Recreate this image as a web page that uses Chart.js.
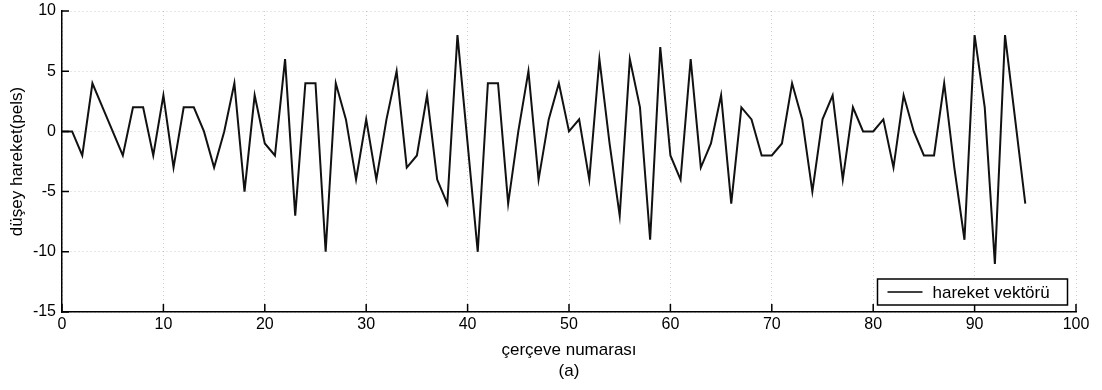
<!DOCTYPE html>
<html>
<head>
<meta charset="utf-8">
<script src="https://cdn.jsdelivr.net/npm/chart.js@4"></script>
<style>
  html, body { margin: 0; padding: 0; background: #fff; }
  #wrap { width: 1102px; height: 390px; }
</style>
</head>
<body>
<div id="wrap"><canvas id="chart" width="1102" height="390"></canvas></div>
<script>
// frame index (çerçeve numarası) and vertical motion (pels)
const frames = [
  0, 1, 2, 3, 4, 5, 6, 7, 8, 9, 10, 11, 12, 13, 14, 15, 16, 17, 18, 19,
  20, 21, 22, 23, 24, 25, 26, 27, 28, 29, 30, 31, 32, 33, 34, 35, 36, 37, 38, 39,
  40, 41, 42, 43, 44, 45, 46, 47, 48, 49, 50, 51, 52, 53, 54, 55, 56, 57, 58, 59,
  60, 61, 62, 63, 64, 65, 66, 67, 68, 69, 70, 71, 72, 73, 74, 75, 76, 77, 78, 79,
  80, 81, 82, 83, 84, 85, 86, 87, 88, 89, 90, 91, 92, 93, 94, 95
];
const motion = [
  0, 0, -2, 4, 2, 0, -2, 2, 2, -2, 3, -3, 2, 2, 0, -3, 0, 4, -5, 3,
  -1, -2, 6, -7, 4, 4, -10, 4, 1, -4, 1, -4, 1, 5, -3, -2, 3, -4, -6, 8,
  -1, -10, 4, 4, -6, 0, 5, -4, 1, 4, 0, 1, -4, 6, -1, -7, 6, 2, -9, 7,
  -2, -4, 6, -3, -1, 3, -6, 2, 1, -2, -2, -1, 4, 1, -5, 1, 3, -4, 2, 0,
  0, 1, -3, 3, 0, -2, -2, 4, -3, -9, 8, 2, -11, 8, 1, -6
];
const xTicks = [0, 10, 20, 30, 40, 50, 60, 70, 80, 90, 100];
const yTicks = [-15, -10, -5, 0, 5, 10];

const seriesName = 'hareket vektörü';
const xTitle = ['çerçeve numarası', '(a)'];
const yTitle = 'düşey hareket(pels)';

const FONT = '"Liberation Sans", Arial, sans-serif';

// matlab style ticks pointing into the plot
const innerTicks = {
  id: 'innerTicks',
  afterDraw(chart) {
    const { ctx, chartArea: a, scales } = chart;
    ctx.save();
    ctx.strokeStyle = '#000';
    ctx.lineWidth = 1.5;
    ctx.beginPath();
    xTicks.forEach(v => {
      const px = scales.x.getPixelForValue(v);
      ctx.moveTo(px, a.bottom);
      ctx.lineTo(px, a.bottom - 8);
    });
    yTicks.forEach(v => {
      const py = scales.y.getPixelForValue(v);
      ctx.moveTo(a.left, py);
      ctx.lineTo(a.left + 7, py);
    });
    ctx.stroke();
    ctx.restore();
  }
};

const boxLegend = {
  id: 'boxLegend',
  afterDraw(chart) {
    const { ctx, chartArea: a } = chart;
    const ds = chart.data.datasets[0];
    const w = 190, h = 26;
    const x0 = a.right - 8.5 - w, y0 = a.bottom - 7 - h;
    ctx.save();
    ctx.fillStyle = '#fff';
    ctx.fillRect(x0, y0, w, h);
    ctx.strokeStyle = '#000';
    ctx.lineWidth = 1.5;
    ctx.strokeRect(x0, y0, w, h);
    const my = y0 + h / 2;
    ctx.lineWidth = 1.5;
    ctx.beginPath();
    ctx.moveTo(x0 + 10, my);
    ctx.lineTo(x0 + 45, my);
    ctx.stroke();
    ctx.fillStyle = '#000';
    ctx.font = '17px ' + FONT;
    ctx.textBaseline = 'middle';
    ctx.fillText(ds.label, x0 + 55, my + 1);
    ctx.restore();
  }
};

new Chart(document.getElementById('chart'), {
  type: 'line',
  data: {
    datasets: [{
      label: seriesName,
      data: frames.map((f, i) => ({ x: f, y: motion[i] })),
      borderColor: '#111',
      borderWidth: 2,
      pointRadius: 0,
      tension: 0,
      fill: false
    }]
  },
  options: {
    responsive: false,
    animation: false,
    layout: { padding: { top: 11, right: 26, left: 0, bottom: 0 } },
    plugins: {
      legend: { display: false },
      tooltip: { enabled: false }
    },
    scales: {
      x: {
        type: 'linear',
        min: 0,
        max: 100,
        afterBuildTicks: s => { s.ticks = xTicks.map(v => ({ value: v })); },
        afterFit: s => { s.height = 78; },
        ticks: { color: '#000', font: { family: FONT, size: 16 }, padding: 3, maxRotation: 0 },
        grid: { color: 'rgba(0,0,0,0.2)', lineWidth: 1, drawTicks: false },
        border: { display: true, color: '#000', width: 1.5, dash: [1, 3] },
        title: {
          display: true, text: xTitle, color: '#000',
          font: { family: FONT, size: 17, lineHeight: 1.25 },
          padding: { top: 0, bottom: 8 }
        }
      },
      y: {
        min: -15,
        max: 10,
        afterBuildTicks: s => { s.ticks = yTicks.map(v => ({ value: v })); },
        afterFit: s => { s.width = 62; s.paddingTop = 0; s.paddingBottom = 0; },
        ticks: { color: '#000', font: { family: FONT, size: 16 }, padding: 6 },
        grid: { color: 'rgba(0,0,0,0.2)', lineWidth: 1, drawTicks: false },
        border: { display: true, color: '#000', width: 1.5, dash: [1, 3] },
        title: {
          display: true, text: yTitle, color: '#000',
          font: { family: FONT, size: 17 },
          padding: { top: 7, bottom: 0 }
        }
      }
    }
  },
  plugins: [innerTicks, boxLegend]
});
</script>
</body>
</html>
